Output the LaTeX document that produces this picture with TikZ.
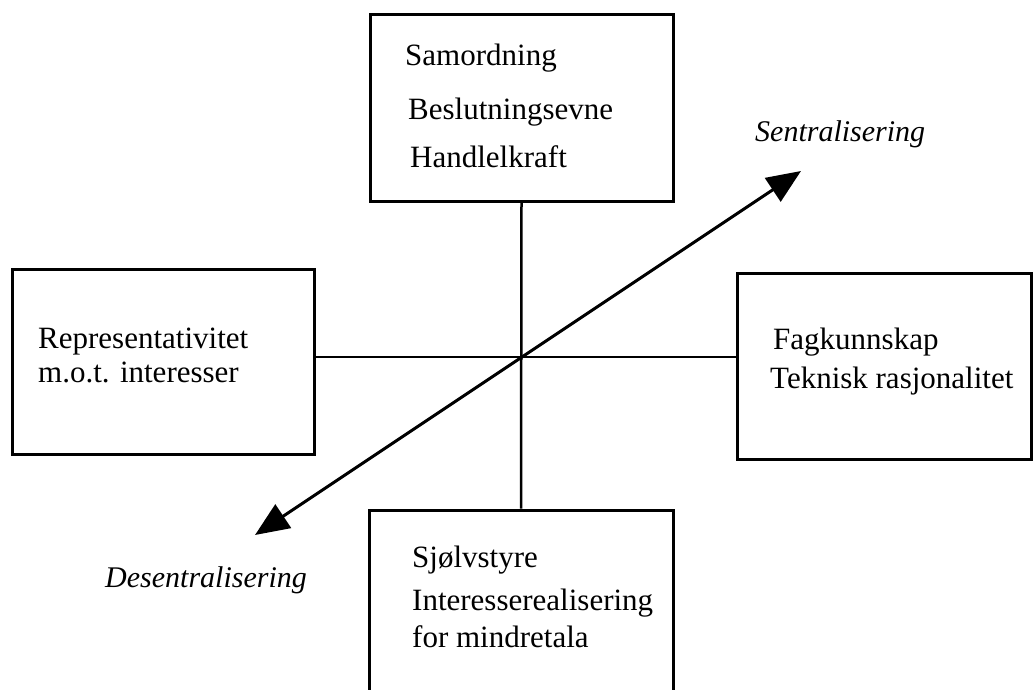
\documentclass[tikz,border=0pt]{standalone}
\usepackage{fontspec}
\setmainfont{Liberation Serif}
\usetikzlibrary{arrows.meta}
\begin{document}
\begin{tikzpicture}[x=1pt,y=-1pt,
  box/.style={draw,line width=3pt,rectangle,inner sep=0pt},
  txt/.style={anchor=base west,inner sep=0pt,font=\fontsize{31}{36}\selectfont},
  lbl/.style={anchor=base west,inner sep=0pt,font=\fontsize{30}{36}\selectfont\itshape},
  axisline/.style={line width=2.5pt},
  bigarrow/.style={line width=3pt,{Triangle[length=34pt,width=28pt]}-{Triangle[length=34pt,width=28pt]}}]
\useasboundingbox (0,0) rectangle (1033,690);
\clip (0,0) rectangle (1033,690);
% boxes
\node[box,minimum width=303pt,minimum height=186pt] (top) at (521.5,108) {};
\node[box,minimum width=302pt,minimum height=185pt] (left) at (163,361.5) {};
\node[box,minimum width=294pt,minimum height=186pt] (right) at (884,366) {};
\node[box,minimum width=304pt,minimum height=210pt] (bottom) at (521,615) {};
% centre and arrow tips
\coordinate (c) at (520,357);
\coordinate (stip) at (801,171);
\coordinate (dtip) at (255,535);
% axes
\draw[axisline] (top.south) -- (bottom.north);
\draw[axisline] (left.east |- c) -- (right.west |- c);
\draw[bigarrow] (dtip) -- (stip);
% texts
\node[txt] (t1) at (405,66) {Samordning};
\node[txt] (t2) at (408,120) {Beslutningsevne};
\node[txt] (t3) at (410,167) {Handlelkraft};
\node[txt] (l1) at (38,348) {Representativitet};
\node[txt] (l2) at (38,382) {m.o.t. interesser};
\node[txt] (r1) at (773,349) {Fagkunnskap};
\node[txt] (r2) at (770,388) {Teknisk rasjonalitet};
\node[txt] (b1) at (412,567) {Sjølvstyre};
\node[txt] (b2) at (412,610) {Interesserealisering};
\node[txt] (b3) at (412,647) {for mindretala};
\node[lbl] (sl) at (755,142) {Sentralisering};
\node[lbl] (dl) at (105,587) {Desentralisering};
\end{tikzpicture}
\end{document}
